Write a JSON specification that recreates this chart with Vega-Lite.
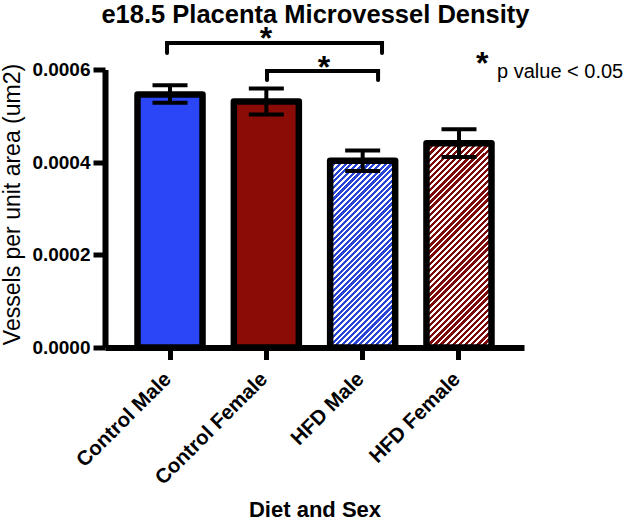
{
  "$schema": "https://vega.github.io/schema/vega-lite/v6.json",
  "width": 419,
  "height": 278,
  "autosize": {"type": "none"},
  "padding": {"left": 105, "top": 69.5, "right": 102, "bottom": 172.5},
  "background": "white",
  "config": {"view": {"stroke": null}, "font": "Liberation Sans"},
  "datasets": {
    "bars": [
      {"group": "Control Male", "value": 0.000546, "lo": 0.000528, "hi": 0.000566},
      {"group": "Control Female", "value": 0.000531, "lo": 0.000503, "hi": 0.000559},
      {"group": "HFD Male", "value": 0.000403, "lo": 0.000381, "hi": 0.000425},
      {"group": "HFD Female", "value": 0.000441, "lo": 0.000411, "hi": 0.000471}
    ],
    "brackets": [
      {"a": 0.644, "b": 2.876, "y": 0.000657, "yend": 0.0006356},
      {"a": 1.682, "b": 2.835, "y": 0.0005968, "yend": 0.0005774}
    ],
    "stars": [
      {"x": 1.672, "y": 0.000645, "text": "*"},
      {"x": 2.274, "y": 0.000582, "text": "*"},
      {"x": 3.915, "y": 0.000591, "text": "*"}
    ],
    "note": [
      {"x": 4.07, "y": 0.0005817, "text": "p value < 0.05"}
    ],
    "heading": [
      {"x": 2.185, "y": 0.0007004, "text": "e18.5 Placenta Microvessel Density"}
    ]
  },
  "layer": [
    {
      "data": {"name": "bars"},
      "encoding": {
        "x": {
          "field": "group",
          "type": "nominal",
          "sort": ["Control Male", "Control Female", "HFD Male", "HFD Female"],
          "scale": {"paddingInner": 0.325, "paddingOuter": 0.3375},
          "axis": {
            "title": "Diet and Sex",
            "labelAngle": -45,
            "labelFont": "Liberation Sans",
            "labelFontWeight": "bold",
            "labelFontSize": 20.5,
            "labelColor": "black",
            "labelPadding": 9,
            "labelOffset": -9,
            "tickSize": 12,
            "tickWidth": 5,
            "tickColor": "black",
            "domainWidth": 6,
            "domainColor": "black",
            "grid": false,
            "titleFont": "Liberation Sans",
            "titleFontSize": 22,
            "titleFontWeight": "bold",
            "titleColor": "black",
            "titleY": 168.5,
            "titleBaseline": "alphabetic"
          }
        }
      },
      "layer": [
        {
          "mark": {"type": "bar", "stroke": "black", "strokeWidth": 6.5, "strokeJoin": "round", "opacity": 1},
          "encoding": {
            "y": {
              "field": "value",
              "type": "quantitative",
              "scale": {"domain": [0, 0.0006], "nice": false},
              "axis": {
                "title": "Vessels per unit area (um2)",
                "values": [0, 0.0002, 0.0004, 0.0006],
                "format": ".4f",
                "grid": false,
                "domainWidth": 6,
                "domainColor": "black",
                "tickColor": "black",
                "tickWidth": 5,
                "tickSize": 12,
                "labelFont": "Liberation Sans",
                "labelFontWeight": "bold",
                "labelFontSize": 19,
                "labelColor": "black",
                "labelPadding": 3,
                "titleFont": "Liberation Sans",
                "titleFontWeight": "normal",
                "titleFontSize": 23,
                "titleColor": "black",
                "titleX": -93,
                "titleY": 134.5,
                "titleAngle": -90,
                "titleAlign": "center",
                "titleBaseline": "middle"
              }
            },
            "fill": {
              "condition": [
                {"test": "datum.group === 'Control Female'", "value": "#8b0b06"},
                {"test": "datum.group === 'HFD Male'", "value": {
                  "gradient": "linear", "x1": 0, "y1": 0, "x2": 0.4186, "y2": 1.2024,
                  "stops": [
                    {"offset":0,"color":"#2a45d6"},{"offset":0.0125,"color":"#2a45d6"},{"offset":0.0125,"color":"#fff"},{"offset":0.0227,"color":"#fff"},
                    {"offset":0.0227,"color":"#2a45d6"},{"offset":0.0352,"color":"#2a45d6"},{"offset":0.0352,"color":"#fff"},{"offset":0.0455,"color":"#fff"},
                    {"offset":0.0455,"color":"#2a45d6"},{"offset":0.058,"color":"#2a45d6"},{"offset":0.058,"color":"#fff"},{"offset":0.0682,"color":"#fff"},
                    {"offset":0.0682,"color":"#2a45d6"},{"offset":0.0807,"color":"#2a45d6"},{"offset":0.0807,"color":"#fff"},{"offset":0.0909,"color":"#fff"},
                    {"offset":0.0909,"color":"#2a45d6"},{"offset":0.1034,"color":"#2a45d6"},{"offset":0.1034,"color":"#fff"},{"offset":0.1136,"color":"#fff"},
                    {"offset":0.1136,"color":"#2a45d6"},{"offset":0.1261,"color":"#2a45d6"},{"offset":0.1261,"color":"#fff"},{"offset":0.1364,"color":"#fff"},
                    {"offset":0.1364,"color":"#2a45d6"},{"offset":0.1489,"color":"#2a45d6"},{"offset":0.1489,"color":"#fff"},{"offset":0.1591,"color":"#fff"},
                    {"offset":0.1591,"color":"#2a45d6"},{"offset":0.1716,"color":"#2a45d6"},{"offset":0.1716,"color":"#fff"},{"offset":0.1818,"color":"#fff"},
                    {"offset":0.1818,"color":"#2a45d6"},{"offset":0.1943,"color":"#2a45d6"},{"offset":0.1943,"color":"#fff"},{"offset":0.2045,"color":"#fff"},
                    {"offset":0.2045,"color":"#2a45d6"},{"offset":0.217,"color":"#2a45d6"},{"offset":0.217,"color":"#fff"},{"offset":0.2273,"color":"#fff"},
                    {"offset":0.2273,"color":"#2a45d6"},{"offset":0.2398,"color":"#2a45d6"},{"offset":0.2398,"color":"#fff"},{"offset":0.25,"color":"#fff"},
                    {"offset":0.25,"color":"#2a45d6"},{"offset":0.2625,"color":"#2a45d6"},{"offset":0.2625,"color":"#fff"},{"offset":0.2727,"color":"#fff"},
                    {"offset":0.2727,"color":"#2a45d6"},{"offset":0.2852,"color":"#2a45d6"},{"offset":0.2852,"color":"#fff"},{"offset":0.2955,"color":"#fff"},
                    {"offset":0.2955,"color":"#2a45d6"},{"offset":0.308,"color":"#2a45d6"},{"offset":0.308,"color":"#fff"},{"offset":0.3182,"color":"#fff"},
                    {"offset":0.3182,"color":"#2a45d6"},{"offset":0.3307,"color":"#2a45d6"},{"offset":0.3307,"color":"#fff"},{"offset":0.3409,"color":"#fff"},
                    {"offset":0.3409,"color":"#2a45d6"},{"offset":0.3534,"color":"#2a45d6"},{"offset":0.3534,"color":"#fff"},{"offset":0.3636,"color":"#fff"},
                    {"offset":0.3636,"color":"#2a45d6"},{"offset":0.3761,"color":"#2a45d6"},{"offset":0.3761,"color":"#fff"},{"offset":0.3864,"color":"#fff"},
                    {"offset":0.3864,"color":"#2a45d6"},{"offset":0.3989,"color":"#2a45d6"},{"offset":0.3989,"color":"#fff"},{"offset":0.4091,"color":"#fff"},
                    {"offset":0.4091,"color":"#2a45d6"},{"offset":0.4216,"color":"#2a45d6"},{"offset":0.4216,"color":"#fff"},{"offset":0.4318,"color":"#fff"},
                    {"offset":0.4318,"color":"#2a45d6"},{"offset":0.4443,"color":"#2a45d6"},{"offset":0.4443,"color":"#fff"},{"offset":0.4545,"color":"#fff"},
                    {"offset":0.4545,"color":"#2a45d6"},{"offset":0.467,"color":"#2a45d6"},{"offset":0.467,"color":"#fff"},{"offset":0.4773,"color":"#fff"},
                    {"offset":0.4773,"color":"#2a45d6"},{"offset":0.4898,"color":"#2a45d6"},{"offset":0.4898,"color":"#fff"},{"offset":0.5,"color":"#fff"},
                    {"offset":0.5,"color":"#2a45d6"},{"offset":0.5125,"color":"#2a45d6"},{"offset":0.5125,"color":"#fff"},{"offset":0.5227,"color":"#fff"},
                    {"offset":0.5227,"color":"#2a45d6"},{"offset":0.5352,"color":"#2a45d6"},{"offset":0.5352,"color":"#fff"},{"offset":0.5455,"color":"#fff"},
                    {"offset":0.5455,"color":"#2a45d6"},{"offset":0.558,"color":"#2a45d6"},{"offset":0.558,"color":"#fff"},{"offset":0.5682,"color":"#fff"},
                    {"offset":0.5682,"color":"#2a45d6"},{"offset":0.5807,"color":"#2a45d6"},{"offset":0.5807,"color":"#fff"},{"offset":0.5909,"color":"#fff"},
                    {"offset":0.5909,"color":"#2a45d6"},{"offset":0.6034,"color":"#2a45d6"},{"offset":0.6034,"color":"#fff"},{"offset":0.6136,"color":"#fff"},
                    {"offset":0.6136,"color":"#2a45d6"},{"offset":0.6261,"color":"#2a45d6"},{"offset":0.6261,"color":"#fff"},{"offset":0.6364,"color":"#fff"},
                    {"offset":0.6364,"color":"#2a45d6"},{"offset":0.6489,"color":"#2a45d6"},{"offset":0.6489,"color":"#fff"},{"offset":0.6591,"color":"#fff"},
                    {"offset":0.6591,"color":"#2a45d6"},{"offset":0.6716,"color":"#2a45d6"},{"offset":0.6716,"color":"#fff"},{"offset":0.6818,"color":"#fff"},
                    {"offset":0.6818,"color":"#2a45d6"},{"offset":0.6943,"color":"#2a45d6"},{"offset":0.6943,"color":"#fff"},{"offset":0.7045,"color":"#fff"},
                    {"offset":0.7045,"color":"#2a45d6"},{"offset":0.717,"color":"#2a45d6"},{"offset":0.717,"color":"#fff"},{"offset":0.7273,"color":"#fff"},
                    {"offset":0.7273,"color":"#2a45d6"},{"offset":0.7398,"color":"#2a45d6"},{"offset":0.7398,"color":"#fff"},{"offset":0.75,"color":"#fff"},
                    {"offset":0.75,"color":"#2a45d6"},{"offset":0.7625,"color":"#2a45d6"},{"offset":0.7625,"color":"#fff"},{"offset":0.7727,"color":"#fff"},
                    {"offset":0.7727,"color":"#2a45d6"},{"offset":0.7852,"color":"#2a45d6"},{"offset":0.7852,"color":"#fff"},{"offset":0.7955,"color":"#fff"},
                    {"offset":0.7955,"color":"#2a45d6"},{"offset":0.808,"color":"#2a45d6"},{"offset":0.808,"color":"#fff"},{"offset":0.8182,"color":"#fff"},
                    {"offset":0.8182,"color":"#2a45d6"},{"offset":0.8307,"color":"#2a45d6"},{"offset":0.8307,"color":"#fff"},{"offset":0.8409,"color":"#fff"},
                    {"offset":0.8409,"color":"#2a45d6"},{"offset":0.8534,"color":"#2a45d6"},{"offset":0.8534,"color":"#fff"},{"offset":0.8636,"color":"#fff"},
                    {"offset":0.8636,"color":"#2a45d6"},{"offset":0.8761,"color":"#2a45d6"},{"offset":0.8761,"color":"#fff"},{"offset":0.8864,"color":"#fff"},
                    {"offset":0.8864,"color":"#2a45d6"},{"offset":0.8989,"color":"#2a45d6"},{"offset":0.8989,"color":"#fff"},{"offset":0.9091,"color":"#fff"},
                    {"offset":0.9091,"color":"#2a45d6"},{"offset":0.9216,"color":"#2a45d6"},{"offset":0.9216,"color":"#fff"},{"offset":0.9318,"color":"#fff"},
                    {"offset":0.9318,"color":"#2a45d6"},{"offset":0.9443,"color":"#2a45d6"},{"offset":0.9443,"color":"#fff"},{"offset":0.9545,"color":"#fff"},
                    {"offset":0.9545,"color":"#2a45d6"},{"offset":0.967,"color":"#2a45d6"},{"offset":0.967,"color":"#fff"},{"offset":0.9773,"color":"#fff"},
                    {"offset":0.9773,"color":"#2a45d6"},{"offset":0.9898,"color":"#2a45d6"},{"offset":0.9898,"color":"#fff"},{"offset":1,"color":"#fff"}
                  ]
                }},
                {"test": "datum.group === 'HFD Female'", "value": {
                  "gradient": "linear", "x1": 0, "y1": 0, "x2": 0.3808, "y2": 1.1971,
                  "stops": [
                    {"offset":0,"color":"#7d0a08"},{"offset":0.0125,"color":"#7d0a08"},{"offset":0.0125,"color":"#fff"},{"offset":0.0227,"color":"#fff"},
                    {"offset":0.0227,"color":"#7d0a08"},{"offset":0.0352,"color":"#7d0a08"},{"offset":0.0352,"color":"#fff"},{"offset":0.0455,"color":"#fff"},
                    {"offset":0.0455,"color":"#7d0a08"},{"offset":0.058,"color":"#7d0a08"},{"offset":0.058,"color":"#fff"},{"offset":0.0682,"color":"#fff"},
                    {"offset":0.0682,"color":"#7d0a08"},{"offset":0.0807,"color":"#7d0a08"},{"offset":0.0807,"color":"#fff"},{"offset":0.0909,"color":"#fff"},
                    {"offset":0.0909,"color":"#7d0a08"},{"offset":0.1034,"color":"#7d0a08"},{"offset":0.1034,"color":"#fff"},{"offset":0.1136,"color":"#fff"},
                    {"offset":0.1136,"color":"#7d0a08"},{"offset":0.1261,"color":"#7d0a08"},{"offset":0.1261,"color":"#fff"},{"offset":0.1364,"color":"#fff"},
                    {"offset":0.1364,"color":"#7d0a08"},{"offset":0.1489,"color":"#7d0a08"},{"offset":0.1489,"color":"#fff"},{"offset":0.1591,"color":"#fff"},
                    {"offset":0.1591,"color":"#7d0a08"},{"offset":0.1716,"color":"#7d0a08"},{"offset":0.1716,"color":"#fff"},{"offset":0.1818,"color":"#fff"},
                    {"offset":0.1818,"color":"#7d0a08"},{"offset":0.1943,"color":"#7d0a08"},{"offset":0.1943,"color":"#fff"},{"offset":0.2045,"color":"#fff"},
                    {"offset":0.2045,"color":"#7d0a08"},{"offset":0.217,"color":"#7d0a08"},{"offset":0.217,"color":"#fff"},{"offset":0.2273,"color":"#fff"},
                    {"offset":0.2273,"color":"#7d0a08"},{"offset":0.2398,"color":"#7d0a08"},{"offset":0.2398,"color":"#fff"},{"offset":0.25,"color":"#fff"},
                    {"offset":0.25,"color":"#7d0a08"},{"offset":0.2625,"color":"#7d0a08"},{"offset":0.2625,"color":"#fff"},{"offset":0.2727,"color":"#fff"},
                    {"offset":0.2727,"color":"#7d0a08"},{"offset":0.2852,"color":"#7d0a08"},{"offset":0.2852,"color":"#fff"},{"offset":0.2955,"color":"#fff"},
                    {"offset":0.2955,"color":"#7d0a08"},{"offset":0.308,"color":"#7d0a08"},{"offset":0.308,"color":"#fff"},{"offset":0.3182,"color":"#fff"},
                    {"offset":0.3182,"color":"#7d0a08"},{"offset":0.3307,"color":"#7d0a08"},{"offset":0.3307,"color":"#fff"},{"offset":0.3409,"color":"#fff"},
                    {"offset":0.3409,"color":"#7d0a08"},{"offset":0.3534,"color":"#7d0a08"},{"offset":0.3534,"color":"#fff"},{"offset":0.3636,"color":"#fff"},
                    {"offset":0.3636,"color":"#7d0a08"},{"offset":0.3761,"color":"#7d0a08"},{"offset":0.3761,"color":"#fff"},{"offset":0.3864,"color":"#fff"},
                    {"offset":0.3864,"color":"#7d0a08"},{"offset":0.3989,"color":"#7d0a08"},{"offset":0.3989,"color":"#fff"},{"offset":0.4091,"color":"#fff"},
                    {"offset":0.4091,"color":"#7d0a08"},{"offset":0.4216,"color":"#7d0a08"},{"offset":0.4216,"color":"#fff"},{"offset":0.4318,"color":"#fff"},
                    {"offset":0.4318,"color":"#7d0a08"},{"offset":0.4443,"color":"#7d0a08"},{"offset":0.4443,"color":"#fff"},{"offset":0.4545,"color":"#fff"},
                    {"offset":0.4545,"color":"#7d0a08"},{"offset":0.467,"color":"#7d0a08"},{"offset":0.467,"color":"#fff"},{"offset":0.4773,"color":"#fff"},
                    {"offset":0.4773,"color":"#7d0a08"},{"offset":0.4898,"color":"#7d0a08"},{"offset":0.4898,"color":"#fff"},{"offset":0.5,"color":"#fff"},
                    {"offset":0.5,"color":"#7d0a08"},{"offset":0.5125,"color":"#7d0a08"},{"offset":0.5125,"color":"#fff"},{"offset":0.5227,"color":"#fff"},
                    {"offset":0.5227,"color":"#7d0a08"},{"offset":0.5352,"color":"#7d0a08"},{"offset":0.5352,"color":"#fff"},{"offset":0.5455,"color":"#fff"},
                    {"offset":0.5455,"color":"#7d0a08"},{"offset":0.558,"color":"#7d0a08"},{"offset":0.558,"color":"#fff"},{"offset":0.5682,"color":"#fff"},
                    {"offset":0.5682,"color":"#7d0a08"},{"offset":0.5807,"color":"#7d0a08"},{"offset":0.5807,"color":"#fff"},{"offset":0.5909,"color":"#fff"},
                    {"offset":0.5909,"color":"#7d0a08"},{"offset":0.6034,"color":"#7d0a08"},{"offset":0.6034,"color":"#fff"},{"offset":0.6136,"color":"#fff"},
                    {"offset":0.6136,"color":"#7d0a08"},{"offset":0.6261,"color":"#7d0a08"},{"offset":0.6261,"color":"#fff"},{"offset":0.6364,"color":"#fff"},
                    {"offset":0.6364,"color":"#7d0a08"},{"offset":0.6489,"color":"#7d0a08"},{"offset":0.6489,"color":"#fff"},{"offset":0.6591,"color":"#fff"},
                    {"offset":0.6591,"color":"#7d0a08"},{"offset":0.6716,"color":"#7d0a08"},{"offset":0.6716,"color":"#fff"},{"offset":0.6818,"color":"#fff"},
                    {"offset":0.6818,"color":"#7d0a08"},{"offset":0.6943,"color":"#7d0a08"},{"offset":0.6943,"color":"#fff"},{"offset":0.7045,"color":"#fff"},
                    {"offset":0.7045,"color":"#7d0a08"},{"offset":0.717,"color":"#7d0a08"},{"offset":0.717,"color":"#fff"},{"offset":0.7273,"color":"#fff"},
                    {"offset":0.7273,"color":"#7d0a08"},{"offset":0.7398,"color":"#7d0a08"},{"offset":0.7398,"color":"#fff"},{"offset":0.75,"color":"#fff"},
                    {"offset":0.75,"color":"#7d0a08"},{"offset":0.7625,"color":"#7d0a08"},{"offset":0.7625,"color":"#fff"},{"offset":0.7727,"color":"#fff"},
                    {"offset":0.7727,"color":"#7d0a08"},{"offset":0.7852,"color":"#7d0a08"},{"offset":0.7852,"color":"#fff"},{"offset":0.7955,"color":"#fff"},
                    {"offset":0.7955,"color":"#7d0a08"},{"offset":0.808,"color":"#7d0a08"},{"offset":0.808,"color":"#fff"},{"offset":0.8182,"color":"#fff"},
                    {"offset":0.8182,"color":"#7d0a08"},{"offset":0.8307,"color":"#7d0a08"},{"offset":0.8307,"color":"#fff"},{"offset":0.8409,"color":"#fff"},
                    {"offset":0.8409,"color":"#7d0a08"},{"offset":0.8534,"color":"#7d0a08"},{"offset":0.8534,"color":"#fff"},{"offset":0.8636,"color":"#fff"},
                    {"offset":0.8636,"color":"#7d0a08"},{"offset":0.8761,"color":"#7d0a08"},{"offset":0.8761,"color":"#fff"},{"offset":0.8864,"color":"#fff"},
                    {"offset":0.8864,"color":"#7d0a08"},{"offset":0.8989,"color":"#7d0a08"},{"offset":0.8989,"color":"#fff"},{"offset":0.9091,"color":"#fff"},
                    {"offset":0.9091,"color":"#7d0a08"},{"offset":0.9216,"color":"#7d0a08"},{"offset":0.9216,"color":"#fff"},{"offset":0.9318,"color":"#fff"},
                    {"offset":0.9318,"color":"#7d0a08"},{"offset":0.9443,"color":"#7d0a08"},{"offset":0.9443,"color":"#fff"},{"offset":0.9545,"color":"#fff"},
                    {"offset":0.9545,"color":"#7d0a08"},{"offset":0.967,"color":"#7d0a08"},{"offset":0.967,"color":"#fff"},{"offset":0.9773,"color":"#fff"},
                    {"offset":0.9773,"color":"#7d0a08"},{"offset":0.9898,"color":"#7d0a08"},{"offset":0.9898,"color":"#fff"},{"offset":1,"color":"#fff"}
                  ]
                }}
              ],
              "value": "#2b46f6"
            }
          }
        },
        {
          "mark": {"type": "rule", "strokeWidth": 4, "color": "black"},
          "encoding": {
            "y": {"field": "lo", "type": "quantitative"},
            "y2": {"field": "hi"}
          }
        },
        {
          "mark": {"type": "tick", "thickness": 4, "size": 35, "color": "black", "opacity": 1},
          "encoding": {"y": {"field": "lo", "type": "quantitative"}}
        },
        {
          "mark": {"type": "tick", "thickness": 4, "size": 35, "color": "black", "opacity": 1},
          "encoding": {"y": {"field": "hi", "type": "quantitative"}}
        }
      ]
    },
    {
      "layer": [
        {
          "data": {"name": "brackets"},
          "mark": {"type": "rule", "strokeWidth": 4, "color": "black", "strokeCap": "square"},
          "encoding": {
            "x": {"field": "a", "type": "quantitative", "scale": {"domain": [0, 4.35], "nice": false, "zero": false}, "axis": null},
            "x2": {"field": "b"},
            "y": {"field": "y", "type": "quantitative"}
          }
        },
        {
          "data": {"name": "brackets"},
          "mark": {"type": "rule", "strokeWidth": 4, "color": "black", "strokeCap": "round"},
          "encoding": {
            "x": {"field": "a", "type": "quantitative", "scale": {"domain": [0, 4.35], "nice": false, "zero": false}, "axis": null},
            "y": {"field": "y", "type": "quantitative"},
            "y2": {"field": "yend"}
          }
        },
        {
          "data": {"name": "brackets"},
          "mark": {"type": "rule", "strokeWidth": 4, "color": "black", "strokeCap": "round"},
          "encoding": {
            "x": {"field": "b", "type": "quantitative", "scale": {"domain": [0, 4.35], "nice": false, "zero": false}, "axis": null},
            "y": {"field": "y", "type": "quantitative"},
            "y2": {"field": "yend"}
          }
        },
        {
          "data": {"name": "stars"},
          "mark": {"type": "text", "font": "Liberation Sans", "fontWeight": "bold", "fontSize": 32, "align": "center", "baseline": "alphabetic", "color": "black"},
          "encoding": {
            "x": {"field": "x", "type": "quantitative", "scale": {"domain": [0, 4.35], "nice": false, "zero": false}, "axis": null},
            "y": {"field": "y", "type": "quantitative"},
            "text": {"field": "text"}
          }
        },
        {
          "data": {"name": "note"},
          "mark": {"type": "text", "font": "Liberation Sans", "fontSize": 20, "align": "left", "baseline": "alphabetic", "color": "black"},
          "encoding": {
            "x": {"field": "x", "type": "quantitative", "scale": {"domain": [0, 4.35], "nice": false, "zero": false}, "axis": null},
            "y": {"field": "y", "type": "quantitative"},
            "text": {"field": "text"}
          }
        },
        {
          "data": {"name": "heading"},
          "mark": {"type": "text", "font": "Liberation Sans", "fontWeight": "bold", "fontSize": 25.5, "align": "center", "baseline": "alphabetic", "color": "black"},
          "encoding": {
            "x": {"field": "x", "type": "quantitative", "scale": {"domain": [0, 4.35], "nice": false, "zero": false}, "axis": null},
            "y": {"field": "y", "type": "quantitative"},
            "text": {"field": "text"}
          }
        }
      ]
    }
  ],
  "resolve": {"scale": {"x": "independent"}}
}
